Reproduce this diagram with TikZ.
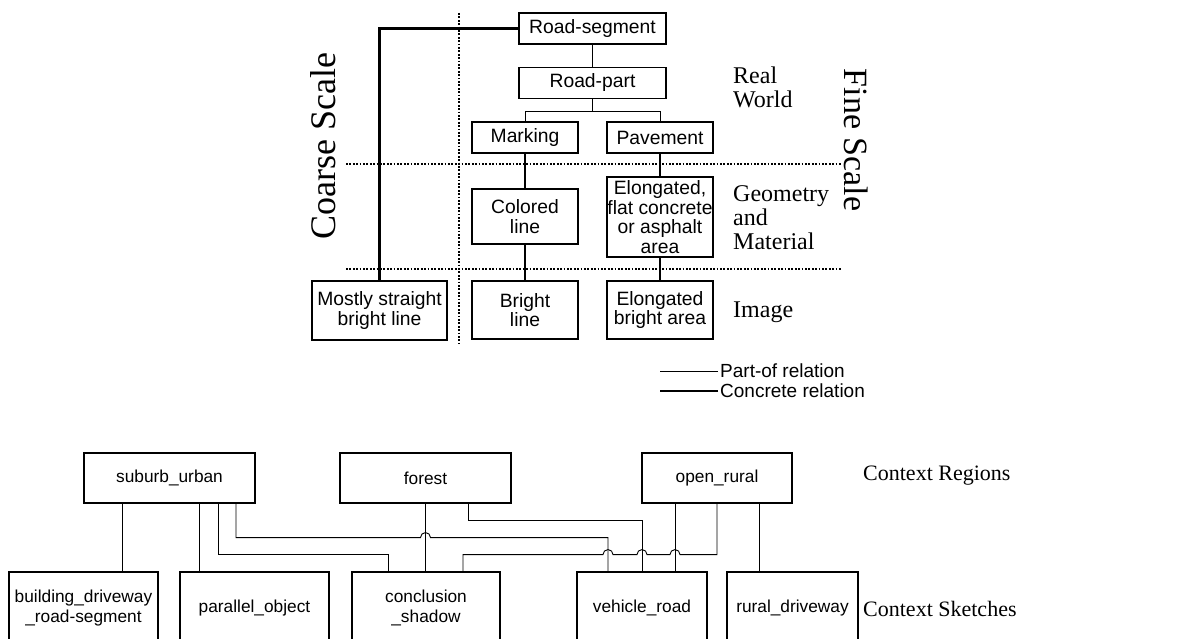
\documentclass[tikz,border=0pt]{standalone}
\usepackage{fontspec}
\setmainfont{Liberation Serif}
\setsansfont{Liberation Sans}

\begin{document}
\begin{tikzpicture}[x=1pt,y=-1pt,
  box/.style={draw, line width=1.1pt, inner sep=0pt, align=center, font=\fontsize{19.3}{19.5}\selectfont\sffamily},
  ctxbox/.style={draw, line width=1.1pt, inner sep=0pt, align=center, minimum height=72pt, font=\fontsize{17.3}{20}\selectfont\sffamily},
  partof/.style={line width=0.9pt},
  concrete/.style={line width=2.4pt},
  level/.style={anchor=west, align=left, inner sep=0pt, font=\fontsize{24}{24}\selectfont},
  sep/.style={line width=2pt, dash pattern=on 1.8pt off 1.6pt}]
\useasboundingbox (0,0) rectangle (1181,639);
%%% Draws the road model
% draws separators
\draw[sep] (459,13) -- (459,343);
\draw[sep] (346,164) -- (842,164);
\draw[sep] (346,269) -- (842,269);
% draws boxes
\node[box, minimum width=147pt, minimum height=31pt] (rs) at (592.5,28.5) {Road-segment};
\node[box, minimum width=147pt, minimum height=31pt] (rp) at (592.5,83) {Road-part};
\node[box, minimum width=106pt, minimum height=31pt] (mk) at (525,137.5) {Marking};
\node[box, minimum width=106pt, minimum height=31pt] (pv) at (660,137.5) {Pavement};
\node[box, minimum width=106pt, minimum height=55pt] (cl) at (525,216.5) {Colored\\line};
\node[box, minimum width=106pt, minimum height=80pt] (ef) at (660,217) {Elongated,\\flat concrete\\or asphalt\\area};
\node[box, minimum width=106pt, minimum height=58pt] (bl) at (525,310) {Bright\\line};
\node[box, minimum width=106pt, minimum height=58pt] (eb) at (660,310) {Elongated\\bright area};
\node[box, minimum width=135pt, minimum height=59pt] (ms) at (379.5,310.5) {Mostly straight\\bright line};
% draws part-of relations
\draw[partof] (rs.south) -- (rp.north);
\draw[partof] (rp.south) -- ++(0,12) -| (mk.north);
\draw[partof] (rp.south) -- ++(0,12) -| (pv.north);
% draws concrete relations
\draw[concrete] (mk.south) -- (cl.north);
\draw[concrete] (cl.south) -- (bl.north);
\draw[concrete] (pv.south) -- (ef.north);
\draw[concrete] (ef.south) -- (eb.north);
\draw[concrete] (rs.west) -| (ms.north);
% labels levels
\node[level] (rw) at (733,87) {Real\\World};
\node[level] (gm) at (733,218) {Geometry\\and\\Material};
\node[level] (im) at (733,312) {Image};
\node[rotate=90, inner sep=0pt, font=\fontsize{36}{36}\selectfont] (coarse) at (323,146) {Coarse Scale};
\node[rotate=-90, inner sep=0pt, font=\fontsize{34}{34}\selectfont] (fine) at (856,140) {Fine Scale};
% legend
\node[anchor=west, inner sep=2pt, font=\fontsize{19}{19}\selectfont\sffamily] (lp) at (718,371) {Part-of relation};
\node[anchor=west, inner sep=2pt, font=\fontsize{19}{19}\selectfont\sffamily] (lc) at (718,391) {Concrete relation};
\draw[partof] (lp.west) -- ++(-58,0);
\draw[concrete] (lc.west) -- ++(-58,0);
%%% Draws the context model
% draws regions
\node[box, minimum width=171pt, minimum height=50pt, font=\fontsize{17.3}{20}\selectfont\sffamily] (su) at (169.5,478) {suburb\_urban};
\node[box, minimum width=171pt, minimum height=50pt, font=\fontsize{17.3}{20}\selectfont\sffamily] (fo) at (425.5,478) {forest};
\node[box, minimum width=150pt, minimum height=50pt, font=\fontsize{17.3}{20}\selectfont\sffamily] (or) at (717,478) {open\_rural};
% draws sketches
\node[ctxbox, minimum width=149pt] (bd) at (83.5,608) {building\_driveway\\\_road-segment};
\node[ctxbox, minimum width=149pt] (po) at (254.5,608) {parallel\_object};
\node[ctxbox, minimum width=148pt] (cs) at (426,608) {conclusion\\\_shadow};
\node[ctxbox, minimum width=130pt] (vr) at (642,608) {vehicle\_road};
\node[ctxbox, minimum width=131pt] (rd) at (792.5,608) {rural\_driveway};
% draws links
\draw[partof] ([xshift=-47.5]su.south) -- ([xshift=38.5]bd.north);
\draw[partof] ([xshift=29.5]su.south) -- ([xshift=-55.5]po.north);
\draw[partof] ([xshift=48.5]su.south) -- ++(0,51) -| ([xshift=-38]cs.north);
\draw[partof] ([xshift=66.5]su.south) -- ++(0,34) -- ++(184.5,0) arc[start angle=180, end angle=360, radius=5] -| ([xshift=-34]vr.north);
\draw[partof] (fo.south) -- (fo.south |- cs.north);
\draw[partof] ([xshift=42.5]fo.south) -- ++(0,17) -| (vr.north);
\draw[partof] (or.south) -- ++(0,51) -- ++(-37,0) arc[start angle=0, end angle=-180, radius=5]
  -- ++(-23,0) arc[start angle=0, end angle=-180, radius=5]
  -- ++(-24,0) arc[start angle=0, end angle=-180, radius=5] -| ([xshift=37]cs.north);
\draw[partof] ([xshift=-42]or.south) -- ([xshift=33]vr.north);
\draw[partof] ([xshift=42]or.south) -- ([xshift=-33.5]rd.north);
% labels levels
\node[anchor=west, inner sep=0pt, font=\fontsize{22}{22}\selectfont] (cr) at (863,476) {Context Regions};
\node[anchor=west, inner sep=0pt, font=\fontsize{22}{22}\selectfont] (ck) at (863,609) {Context Sketches};
\end{tikzpicture}
\end{document}
